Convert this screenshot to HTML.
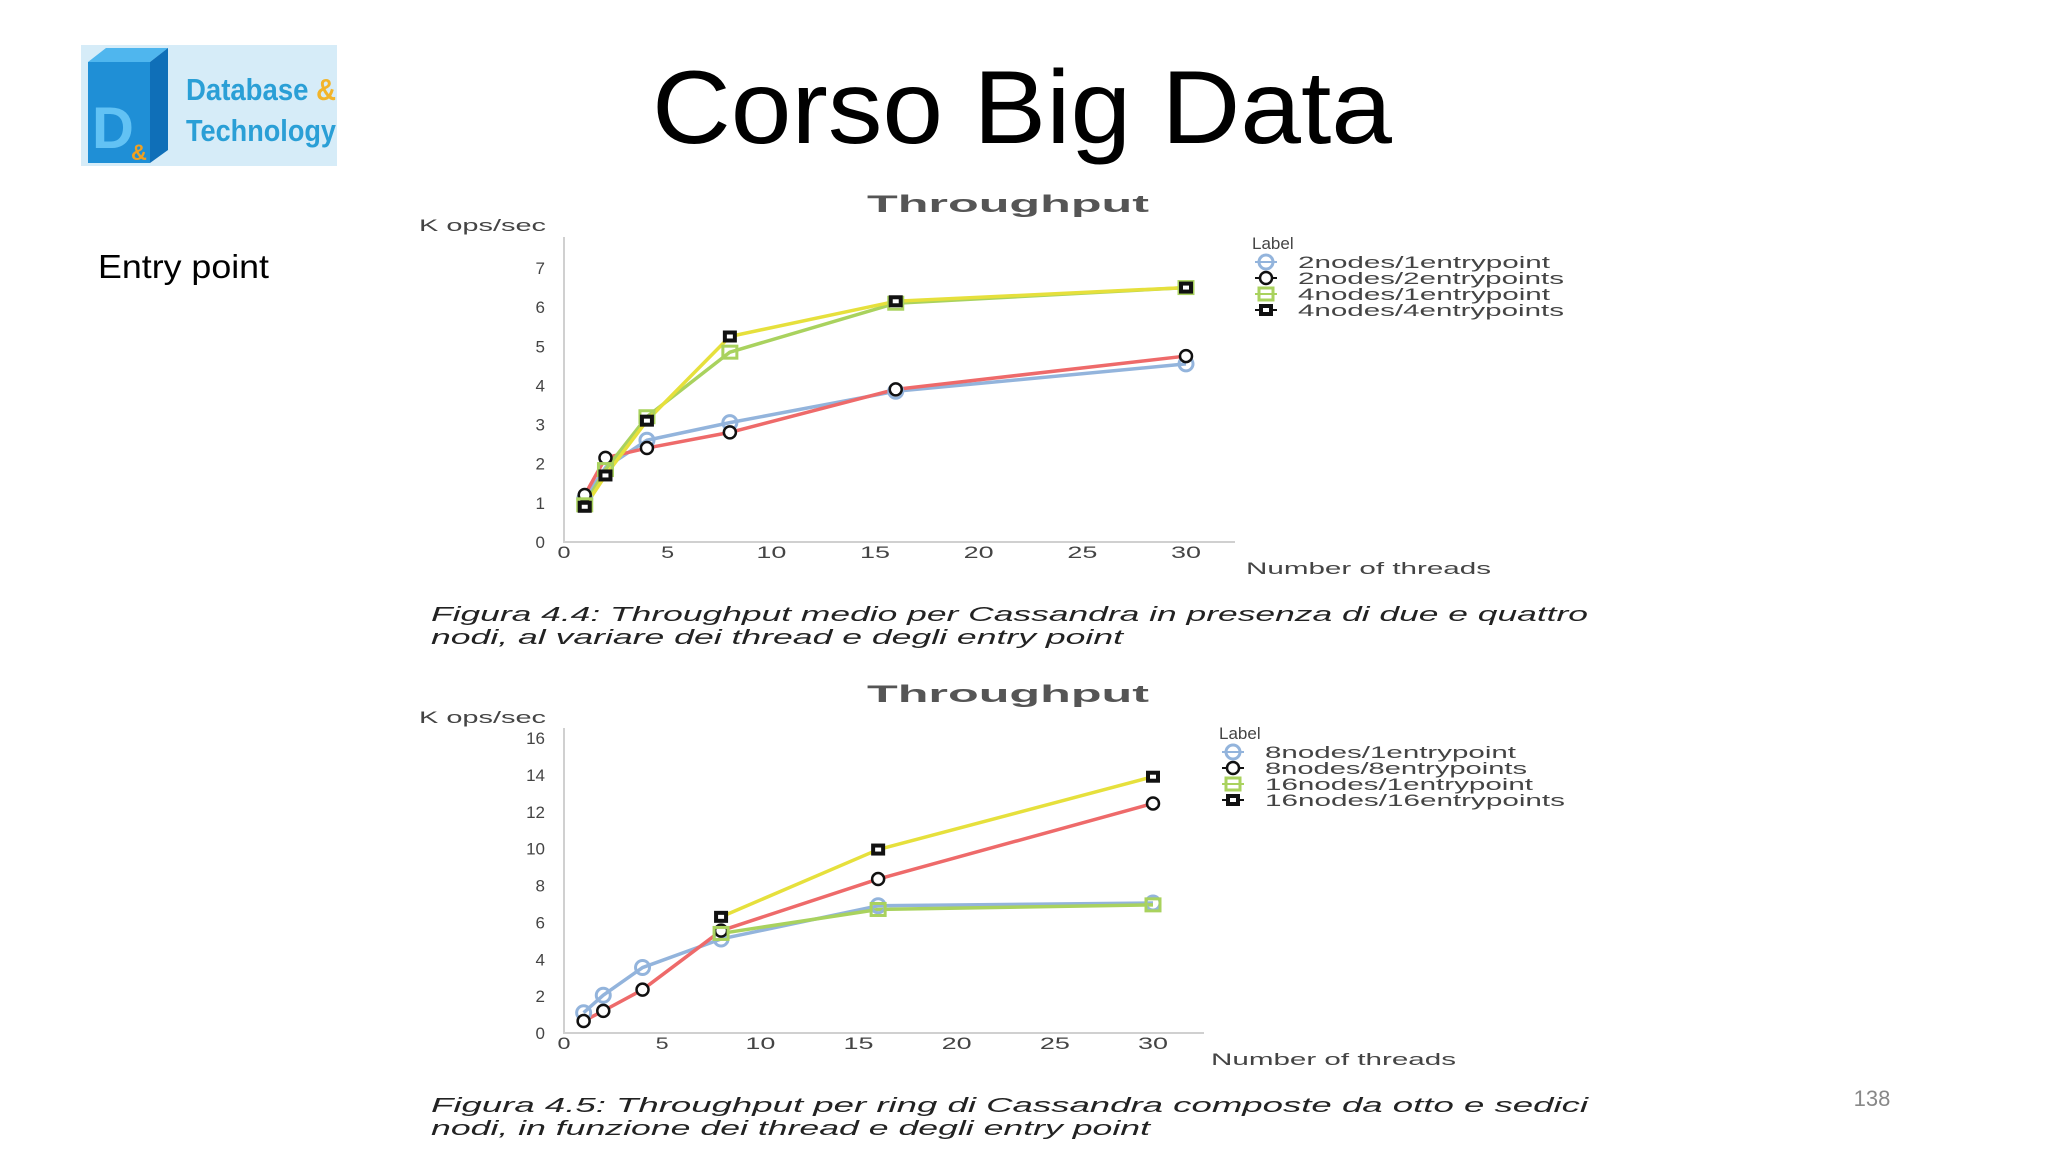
<!DOCTYPE html>
<html><head><meta charset="utf-8"><style>
html,body{margin:0;padding:0;background:#fff;}
svg{display:block;}
</style></head><body>
<svg id="slide" width="2048" height="1152" viewBox="0 0 2048 1152" xmlns="http://www.w3.org/2000/svg" font-family="Liberation Sans, sans-serif">
<g>
  <rect x="81" y="45" width="256" height="121" fill="#d6ecf8"/>
  <polygon points="88,62 106,48 168,48 150,62" fill="#4fb6ee"/>
  <polygon points="150,62 168,48 168,150 150,163" fill="#0f6fb8"/>
  <rect x="88" y="62" width="62" height="101" fill="#1f8fd6"/>
  <text x="92" y="148" font-size="58" font-weight="bold" fill="#62c2f4">D</text>
  <text x="131" y="160" font-size="22" font-weight="bold" fill="#f0a020">&amp;</text>
  <text x="186" y="100" font-size="31" font-weight="bold" fill="#2a9fd6" textLength="150" lengthAdjust="spacingAndGlyphs">Database <tspan fill="#f2b42a">&amp;</tspan></text>
  <text x="186" y="141" font-size="31" font-weight="bold" fill="#2a9fd6" textLength="150" lengthAdjust="spacingAndGlyphs">Technology</text>
</g>
<text x="1022" y="143" text-anchor="middle" font-size="104" fill="#000" textLength="740" lengthAdjust="spacingAndGlyphs">Corso Big Data</text>
<text x="98" y="278" font-size="33" fill="#000" textLength="171" lengthAdjust="spacingAndGlyphs">Entry point</text>
<text x="1872" y="1106" font-size="22" fill="#888" text-anchor="middle">138</text>
<g id="chart1"></g>
<g id="chart2"></g>
</svg>
<script>
const xValues = [1, 2, 4, 8, 16, 30];
const xTicks = [0, 5, 10, 15, 20, 25, 30];
const c1Ticks = [0, 1, 2, 3, 4, 5, 6, 7];
const c1Labels = ["2nodes/1entrypoint", "2nodes/2entrypoints", "4nodes/1entrypoint", "4nodes/4entrypoints"];
const c1Blue = [1.1, 1.9, 2.6, 3.05, 3.85, 4.55];
const c1Red = [1.2, 2.15, 2.4, 2.8, 3.9, 4.75];
const c1Green = [0.95, 1.85, 3.2, 4.85, 6.1, 6.5];
const c1Yellow = [0.9, 1.7, 3.1, 5.25, 6.15, 6.5];
const c2Ticks = [0, 2, 4, 6, 8, 10, 12, 14, 16];
const c2Labels = ["8nodes/1entrypoint", "8nodes/8entrypoints", "16nodes/1entrypoint", "16nodes/16entrypoints"];
const c2Blue = [1.1, 2.05, 3.55, 5.1, 6.9, 7.05];
const c2Red = [0.65, 1.2, 2.35, 5.55, 8.35, 12.45];
const c2Green = [null, null, null, 5.4, 6.7, 6.95];
const c2Yellow = [null, null, null, 6.3, 9.95, 13.9];

const NS = "http://www.w3.org/2000/svg";
function mk(parent, tag, attrs, text) {
  const e = document.createElementNS(NS, tag);
  for (const k in attrs) e.setAttribute(k, attrs[k]);
  if (text !== undefined) e.textContent = text;
  parent.appendChild(e);
  return e;
}
const styles = [
  {color: "#93b4dc", marker: "hollowCircle"},
  {color: "#ee6a6a", marker: "blackCircle"},
  {color: "#a9d25e", marker: "hollowSquare"},
  {color: "#e6e03c", marker: "blackSquare"}
];
function marker(g, type, color, x, y) {
  let m;
  if (type === "hollowCircle") m = mk(g, "circle", {cx: x, cy: y, r: 7, fill: "none", stroke: color, "stroke-width": 3});
  else if (type === "blackCircle") m = mk(g, "circle", {cx: x, cy: y, r: 6, fill: "#fff", stroke: "#111", "stroke-width": 2.5});
  else if (type === "hollowSquare") m = mk(g, "rect", {x: x - 7, y: y - 6, width: 14, height: 12, fill: "none", stroke: color, "stroke-width": 3});
  else {
    m = mk(g, "rect", {x: x - 7, y: y - 6, width: 14, height: 12, fill: "#111"});
    mk(g, "rect", {x: x - 3, y: y - 2, width: 6, height: 4, fill: "#fff"});
  }
  
  
}
function drawChart(cfg) {
  const g = document.getElementById(cfg.id);
  const X = v => cfg.x0 + (v - 0) * (cfg.x30 - cfg.x0) / 30;
  const Y = v => cfg.y0 - (v / cfg.ymax) * (cfg.y0 - cfg.yTop);
  const t = mk(g, "text", {x: 1008, y: cfg.titleY, "text-anchor": "middle", "font-size": 24, "font-weight": "bold", fill: "#555", textLength: 282, lengthAdjust: "spacingAndGlyphs"}, "Throughput");
  
  
  const yl = mk(g, "text", {x: 419, y: cfg.kY, "font-size": 17, fill: "#444", textLength: 127, lengthAdjust: "spacingAndGlyphs"}, "K ops/sec");
  
  
  const ax = mk(g, "path", {d: `M${cfg.x0},${cfg.axTop} V${cfg.y0} H${cfg.axRight}`, fill: "none", stroke: "#d0d0d0", "stroke-width": 2});
  
  
  cfg.yTicks.forEach(v => {
    const e = mk(g, "text", {x: 545, y: Y(v) + 6, "text-anchor": "end", "font-size": 17, fill: "#444"}, String(v));
    
    
  });
  xTicks.forEach(v => {
    const e = mk(g, "text", {x: X(v), y: cfg.y0 + 16, "text-anchor": "middle", "font-size": 17, fill: "#444", textLength: v >= 10 ? 30 : 13, lengthAdjust: "spacingAndGlyphs"}, String(v));
    
    
  });
  const xt = mk(g, "text", {x: cfg.ntX, y: cfg.ntY + 6, "font-size": 17, fill: "#444", textLength: 245, lengthAdjust: "spacingAndGlyphs"}, "Number of threads");
  
  
  cfg.series.forEach((vals, i) => {
    const st = styles[i];
    let d = "";
    vals.forEach((v, j) => { if (v !== null) d += (d ? "L" : "M") + X(xValues[j]) + "," + Y(v); });
    const p = mk(g, "path", {d: d, fill: "none", stroke: st.color, "stroke-width": 3.5, "stroke-linejoin": "round"});
    
    
  });
  cfg.series.forEach((vals, i) => {
    const st = styles[i];
    vals.forEach((v, j) => { if (v !== null) marker(g, st.marker, st.color, X(xValues[j]), Y(v)); });
  });
  const lt = mk(g, "text", {x: cfg.legX, y: cfg.legY + 6, "font-size": 17, fill: "#444"}, "Label");
  
  
  cfg.labels.forEach((lab, i) => {
    const y = cfg.legY + 19 + i * 16;
    const st = styles[i];
    const ln = mk(g, "line", {x1: cfg.mX - 11, x2: cfg.mX + 11, y1: y, y2: y, stroke: i === 3 ? "#111" : (i === 1 ? "#111" : st.color), "stroke-width": 2});
    
    
    marker(g, st.marker, st.color, cfg.mX, y);
    const e = mk(g, "text", {x: cfg.tX, y: y + 6, "font-size": 17, fill: "#444", textLength: cfg.lw[i], lengthAdjust: "spacingAndGlyphs"}, lab);
    
    
  });
  cfg.caption.forEach((line, i) => {
    const e = mk(g, "text", {x: 431, y: cfg.capY + i * 23 + 7, "font-size": 20, "font-style": "italic", fill: "#222", textLength: cfg.capW[i], lengthAdjust: "spacingAndGlyphs"}, line);
    
    
  });
}
drawChart({id: "chart1", x0: 564, x30: 1186, y0: 542, yTop: 268, ymax: 7, axTop: 237, axRight: 1235,
  titleY: 212, kY: 231, ntX: 1246, ntY: 568, legX: 1252, legY: 243, mX: 1266, tX: 1298,
  lw: [252, 266, 252, 266], yTicks: c1Ticks, labels: c1Labels, series: [c1Blue, c1Red, c1Green, c1Yellow],
  caption: ["Figura 4.4:  Throughput medio per Cassandra in presenza di due e quattro", "nodi, al variare dei thread e degli entry point"],
  capY: 614, capW: [1157, 692]});
drawChart({id: "chart2", x0: 564, x30: 1153, y0: 1033, yTop: 738, ymax: 16, axTop: 728, axRight: 1204,
  titleY: 702, kY: 723, ntX: 1211, ntY: 1059, legX: 1219, legY: 733, mX: 1233, tX: 1265,
  lw: [251, 262, 268, 300], yTicks: c2Ticks, labels: c2Labels, series: [c2Blue, c2Red, c2Green, c2Yellow],
  caption: ["Figura 4.5:  Throughput per ring di Cassandra composte da otto e sedici", "nodi, in funzione dei thread e degli entry point"],
  capY: 1105, capW: [1157, 719]});
</script>
</body></html>
